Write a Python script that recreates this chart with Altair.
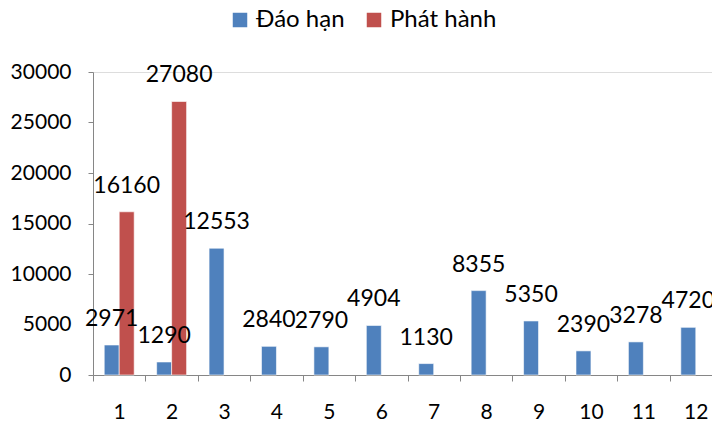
import altair as alt
import pandas as pd

# Monthly figures: maturities vs. new issuance
months = ["1", "2", "3", "4", "5", "6", "7", "8", "9", "10", "11", "12"]
series = ["Đáo hạn", "Phát hành"]
dao_han = [2971, 1290, 12553, 2840, 2790, 4904, 1130, 8355, 5350, 2390, 3278, 4720]
phat_hanh_months = ["1", "2"]
phat_hanh = [16160, 27080]
colors = ["#4F81BD", "#C0504D"]
y_ticks = [0, 5000, 10000, 15000, 20000, 25000, 30000]

rows = [{"month": m, "series": series[0], "value": v} for m, v in zip(months, dao_han)]
rows += [{"month": m, "series": series[1], "value": v} for m, v in zip(phat_hanh_months, phat_hanh)]
df = pd.DataFrame(rows)

FONT = "Lato"
AXIS_GRAY = "#868686"

x_enc = alt.X(
    "month:N",
    sort=months,
    scale=alt.Scale(range=[0, 629], paddingInner=0, paddingOuter=0),
    axis=alt.Axis(
        title=None,
        labelAngle=0,
        tickBand="extent",
        tickSize=6,
        labelPadding=20,
        labelFontSize=21,
        labelFont=FONT,
        labelColor="black",
        domainColor=AXIS_GRAY,
        tickColor=AXIS_GRAY,
    ),
)
xoff_enc = alt.XOffset(
    "series:N", sort=series, scale=alt.Scale(paddingInner=0, paddingOuter=0.75)
)
y_enc = alt.Y(
    "value:Q",
    scale=alt.Scale(domain=[0, 30000], nice=False),
    axis=alt.Axis(
        values=y_ticks,
        grid=False,
        title=None,
        format="d",
        tickSize=5,
        labelPadding=17,
        labelFontSize=21,
        labelFont=FONT,
        labelColor="black",
        domainColor=AXIS_GRAY,
        tickColor=AXIS_GRAY,
    ),
)

bars = alt.Chart(df).mark_bar(stroke="white", strokeWidth=0.6).encode(
    x=x_enc,
    xOffset=xoff_enc,
    y=y_enc,
    color=alt.Color(
        "series:N",
        sort=series,
        scale=alt.Scale(domain=series, range=colors),
        legend=alt.Legend(
            orient="none",
            legendX=135,
            legendY=-64,
            direction="horizontal",
            title=None,
            symbolType="square",
            symbolSize=210,
            symbolStrokeWidth=0,
            labelFontSize=24,
            labelFont=FONT,
            labelColor="black",
            labelOffset=4,
            columnPadding=17,
            padding=0,
        ),
    ),
)

labels = alt.Chart(df).mark_text(
    baseline="alphabetic", dy=-19, fontSize=23, font=FONT, color="black"
).encode(
    x=x_enc,
    xOffset=xoff_enc,
    y=y_enc,
    text=alt.Text("value:Q", format="d"),
)

chart = (
    alt.layer(bars, labels)
    .properties(
        width=619,
        height=303,
        autosize=alt.AutoSizeParams(type="none"),
        padding={"left": 93, "top": 72, "right": 0, "bottom": 50},
    )
    .configure_view(stroke=None)
    .configure(background="white")
)

chart.save("out.html", embed_options={"renderer": "svg", "actions": False})
